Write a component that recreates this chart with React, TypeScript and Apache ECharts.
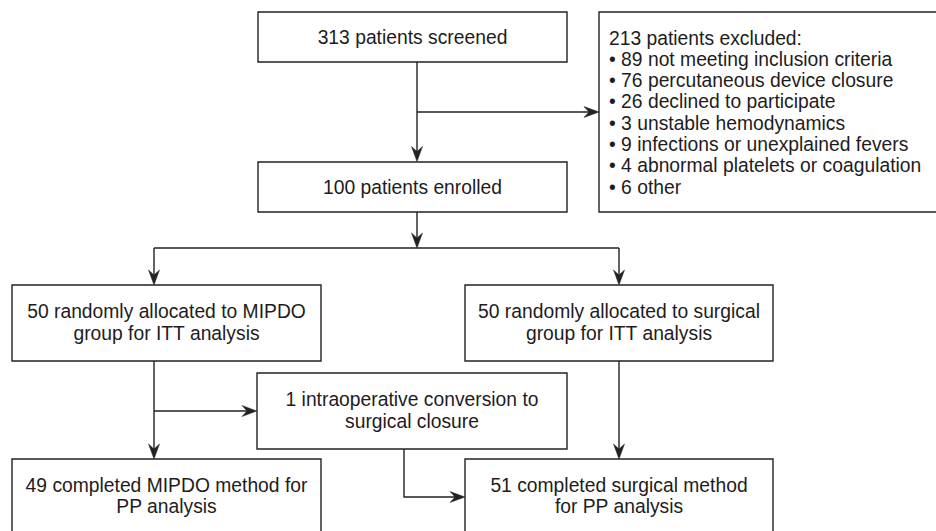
import React, { useEffect, useRef } from "react";
import * as echarts from "echarts";

// Flowchart content
const screenedLabel = "313 patients screened";
const enrolledLabel = "100 patients enrolled";
const excludedTitle = "213 patients excluded:";
const excludedReasons = [
  "• 89 not meeting inclusion criteria",
  "• 76 percutaneous device closure",
  "• 26 declined to participate",
  "• 3 unstable hemodynamics",
  "• 9 infections or unexplained fevers",
  "• 4 abnormal platelets or coagulation",
  "• 6 other",
];
const mipdoItt = ["50 randomly allocated to MIPDO", "group for ITT analysis"];
const surgicalItt = ["50 randomly allocated to surgical", "group for ITT analysis"];
const conversion = ["1 intraoperative conversion to", "surgical closure"];
const mipdoPp = ["49 completed MIPDO method for", "PP analysis"];
const surgicalPp = ["51 completed surgical method", "for PP analysis"];

const LINE = "#222222";
const TEXT = "#1e1c1c";
const FONT = "'Liberation Sans', Arial, Helvetica, sans-serif";
const FS = 19.3;

function box(x: number, y: number, w: number, h: number) {
  return {
    type: "rect",
    shape: { x, y, width: w, height: h },
    style: { fill: "#fff", stroke: LINE, lineWidth: 1.4 },
    z: 1,
  };
}

function ctext(cx: number, cy: number, lines: string[]) {
  return {
    type: "text",
    x: cx,
    y: cy,
    style: {
      text: lines.join("\n"),
      fill: TEXT,
      font: `${FS}px ${FONT}`,
      fontSize: FS,
      fontFamily: FONT,
      align: "center",
      verticalAlign: "middle",
      lineHeight: 21.5,
    },
    z: 3,
  };
}

function seg(points: number[][]) {
  return {
    type: "polyline",
    shape: { points },
    style: { stroke: LINE, lineWidth: 1.4, fill: null },
    z: 2,
  };
}

// arrowhead with tip at (x,y), direction "down" or "right"
function head(x: number, y: number, dir: "down" | "right") {
  const L = 15, W = 5.5, N = 10;
  const pts =
    dir === "down"
      ? [[x, y], [x - W, y - L], [x, y - N], [x + W, y - L]]
      : [[x, y], [x - L, y - W], [x - N, y], [x - L, y + W]];
  return {
    type: "polygon",
    shape: { points: pts },
    style: { fill: LINE, stroke: LINE, lineWidth: 0.5 },
    z: 4,
  };
}

export default function App() {
  const ref = useRef<HTMLDivElement>(null);
  useEffect(() => {
    if (!ref.current) return;
    const chart = echarts.init(ref.current, null, { renderer: "svg" });
    const elements: any[] = [];

    // boxes
    elements.push(box(258, 12, 309, 50), ctext(412.5, 37, [screenedLabel]));
    elements.push(box(258, 162, 309, 50), ctext(412.5, 187, [enrolledLabel]));
    elements.push(box(599, 12, 345, 200));
    [excludedTitle, ...excludedReasons].forEach((t, i) => {
      elements.push({
        type: "text",
        x: 609,
        y: 38 + i * 21.3,
        style: {
          text: t,
          fill: TEXT,
          font: `${FS}px ${FONT}`,
          fontSize: FS,
          fontFamily: FONT,
          align: "left",
          verticalAlign: "middle",
        },
        z: 3,
      });
    });
    elements.push(box(12, 285, 309, 76), ctext(166.5, 322.5, mipdoItt));
    elements.push(box(465, 285, 308, 76), ctext(619, 322.5, surgicalItt));
    elements.push(box(257, 373, 310, 76), ctext(412, 410.5, conversion));
    elements.push(box(12, 459, 309, 90), ctext(166.5, 496, mipdoPp));
    elements.push(box(465, 459, 308, 90), ctext(619, 496, surgicalPp));

    // connectors
    elements.push(seg([[417, 62], [417, 152]]), head(417, 161.5, "down"));
    elements.push(seg([[417, 112], [590, 112]]), head(599, 112, "right"));
    elements.push(seg([[417, 212], [417, 239]]), head(417, 248, "down"));
    elements.push(seg([[154, 248], [619, 248]]));
    elements.push(seg([[154, 248], [154, 276]]), head(154, 285, "down"));
    elements.push(seg([[619, 248], [619, 276]]), head(619, 285, "down"));
    elements.push(seg([[154, 361], [154, 450]]), head(154, 459, "down"));
    elements.push(seg([[154, 411], [248, 411]]), head(257, 411, "right"));
    elements.push(seg([[619, 361], [619, 450]]), head(619, 459, "down"));
    elements.push(seg([[404, 449], [404, 497], [456, 497]]), head(465, 497, "right"));

    chart.setOption({
      animation: false,
      backgroundColor: "#ffffff",
      graphic: { elements },
    });
    return () => chart.dispose();
  }, []);
  return (
    <div
      ref={ref}
      style={{ position: "fixed", left: 0, top: 0, width: 936, height: 531 }}
    />
  );
}
